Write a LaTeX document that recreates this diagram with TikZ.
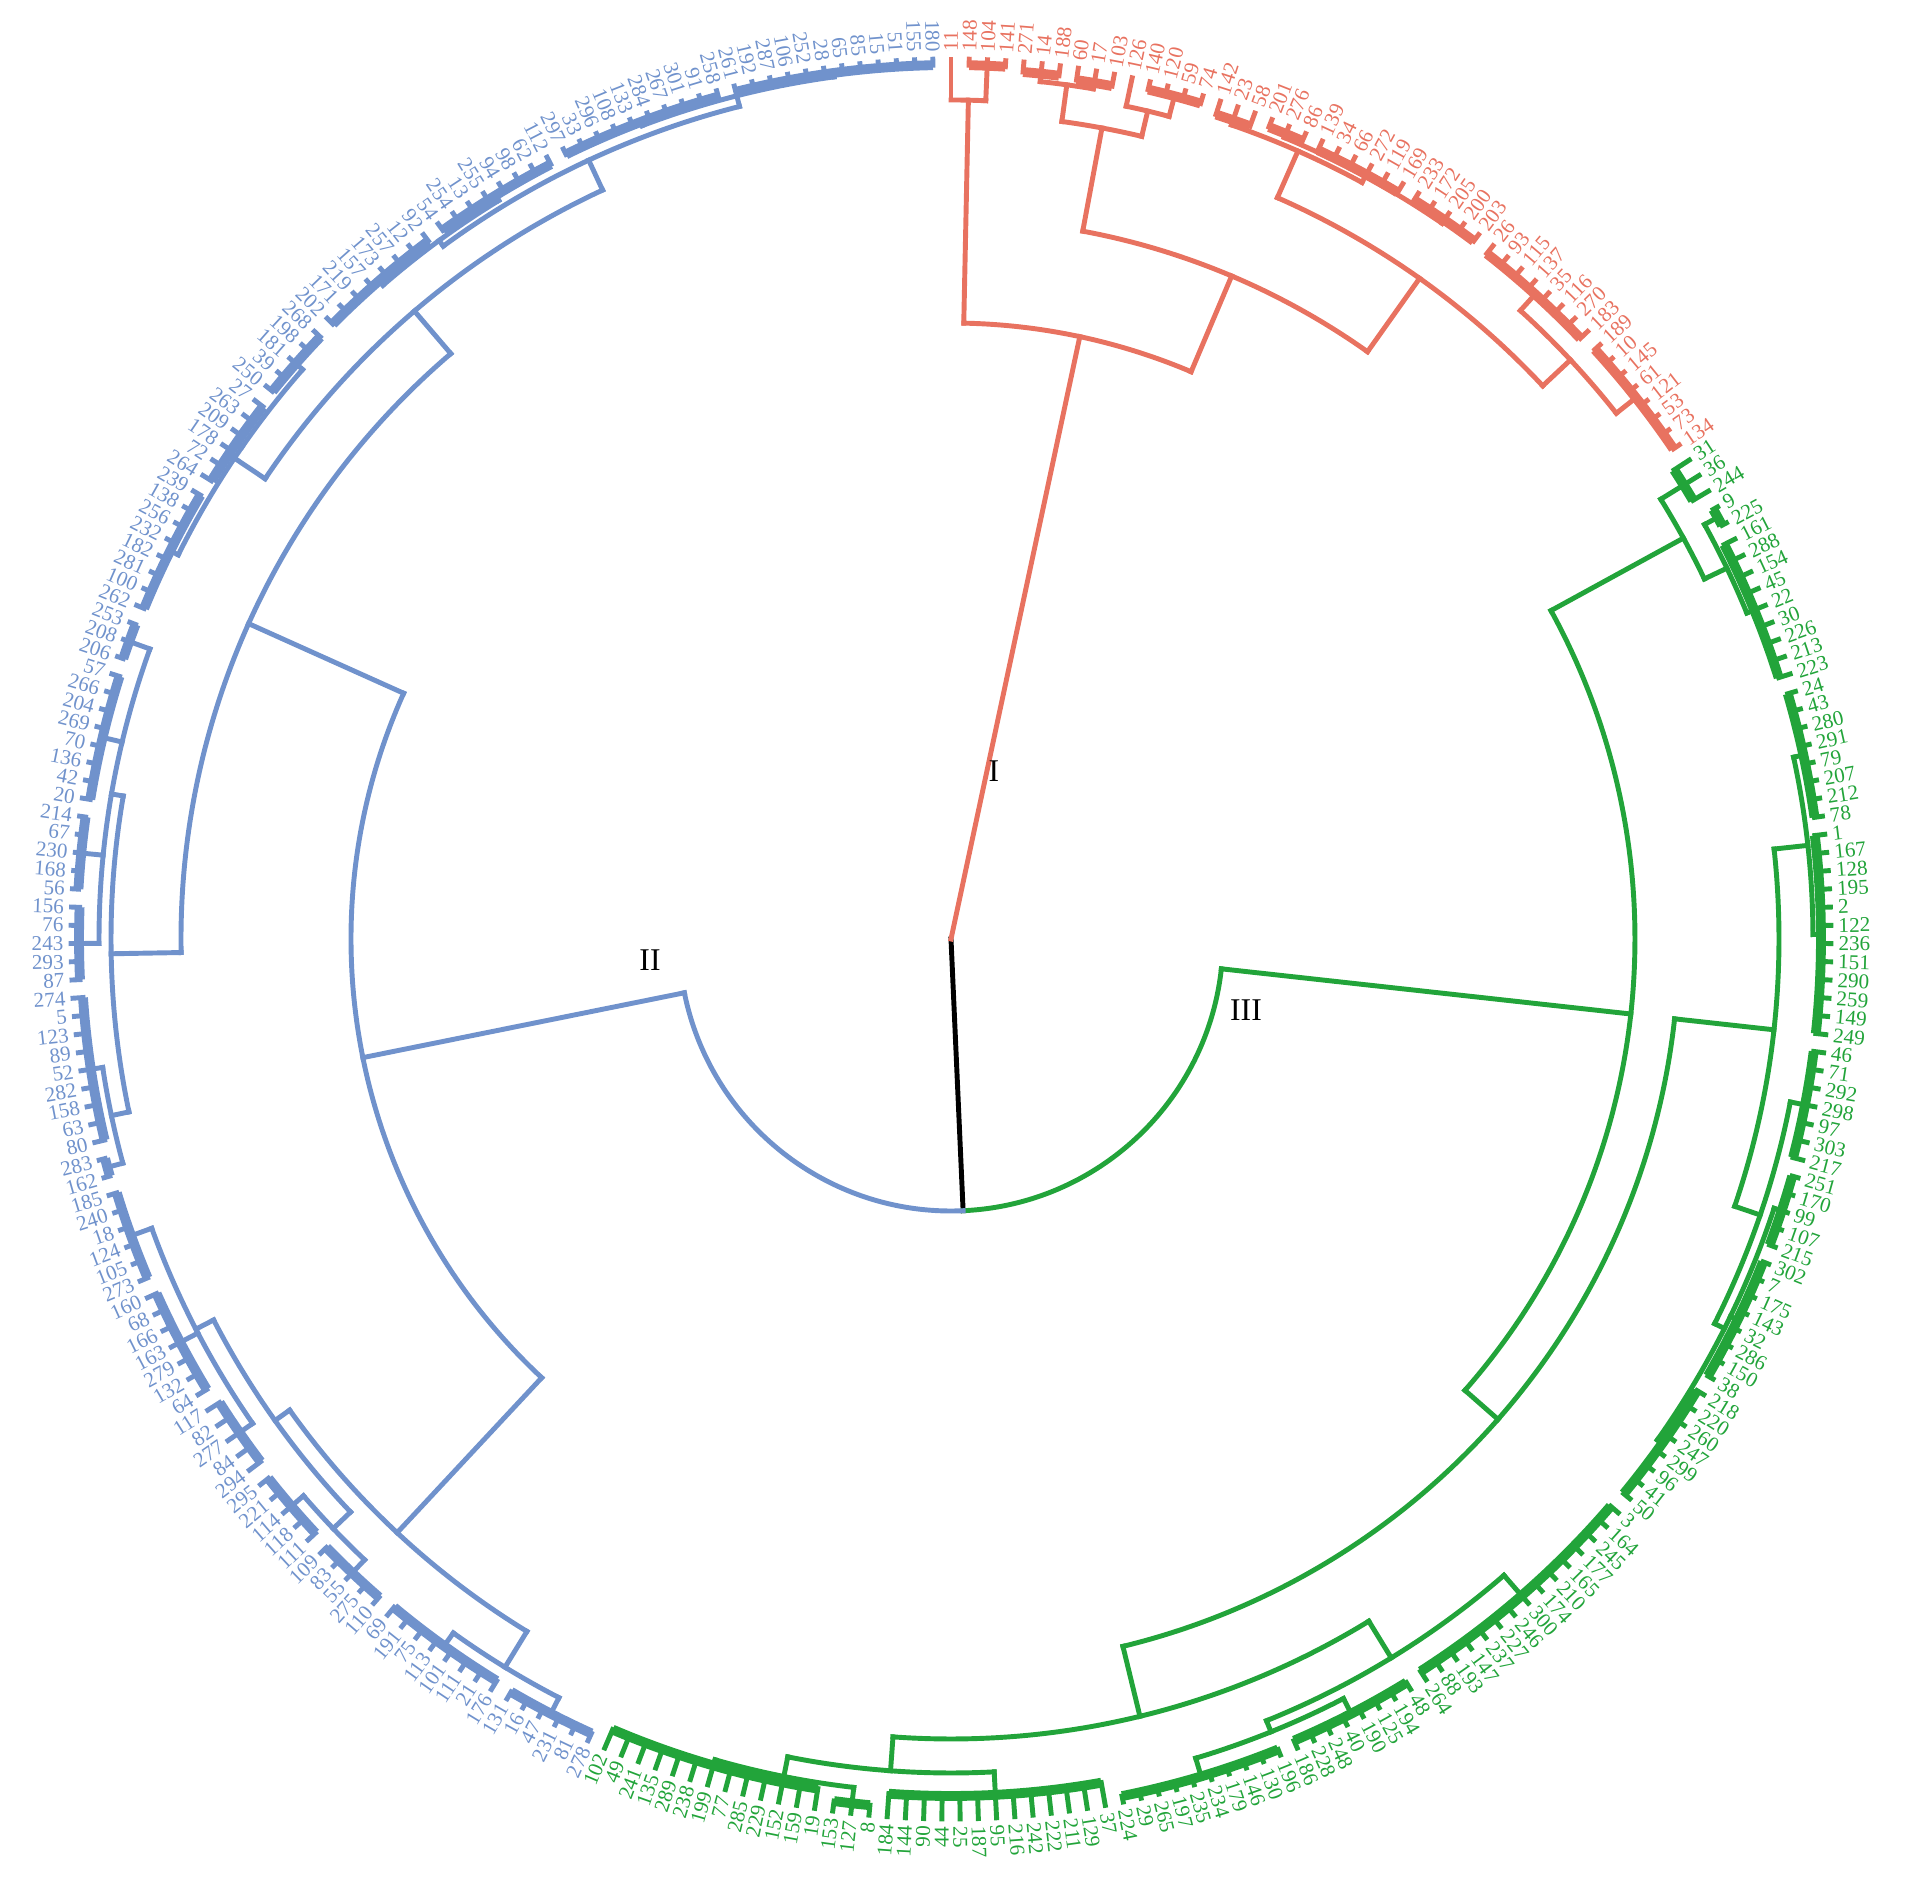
\documentclass[tikz,border=0pt]{standalone}
\usepackage{fontspec}
\setmainfont{Liberation Serif}
\usetikzlibrary{calc}

\definecolor{cred}{RGB}{232,114,96}
\definecolor{cgrn}{RGB}{34,164,58}
\definecolor{cblu}{RGB}{112,146,204}

% radius of the leaf tips and of the leaf labels
\def\rt{8.80}
\def\rl{8.87}
% degrees per leaf (360/303)
\def\dl{1.188119}

% radial stem at #2 from #3 to #4, then arc at #4 from #5 to #6 (positions in leaf units)
\newcommand{\arm}[6]{%
  \pgfmathsetmacro\aa{90-(#2)*\dl}
  \pgfmathsetmacro\ab{90-(#5)*\dl}
  \pgfmathsetmacro\ac{90-(#6)*\dl}
  \draw[#1, branch] (\aa:#3) -- (\aa:#4);
  \draw[#1, branch] (\ab:#4) arc[start angle=\ab, end angle=\ac, radius=#4];
}
% group of leaves #2..#3 hanging at radius #5, stem from #4
\newcommand{\tuft}[5]{%
  \pgfmathsetmacro\ta{90-(#2)*\dl}
  \pgfmathsetmacro\tb{90-(#3)*\dl}
  \pgfmathsetmacro\tm{90-(#2+#3)*\dl/2}
  \draw[#1, branch] (\tm:#4) -- (\tm:#5);
  \ifnum#2=#3\relax\else
    \draw[#1, tuftbar] (\ta:#5) arc[start angle=\ta, end angle=\tb, radius=#5];
  \fi
  \foreach \k in {#2,...,#3}{
    \pgfmathsetmacro\tk{90-\k*\dl}
    \draw[#1, branch] (\tk:#5) -- (\tk:\rt);
  }
}
% leaf label number #1
\newcommand{\leaflabel}[3]{%
  \pgfmathsetmacro\la{90-(#1)*\dl}
  \ifdim\la pt<-90pt
    \node[leaftext, text=#3, anchor=east, rotate=\la+180] (lab#1) at (\la:\rl) {#2};
  \else
    \node[leaftext, text=#3, anchor=west, rotate=\la] (lab#1) at (\la:\rl) {#2};
  \fi
}

\tikzset{
  branch/.style={line width=1.4pt, line cap=rect},
  tuftbar/.style={line width=2.8pt},
  leaftext/.style={font=\fontsize{6}{6}\selectfont, inner sep=0pt},
  cladename/.style={font=\fontsize{9}{9}\selectfont, text=black}
}

\begin{document}
\begin{tikzpicture}
\useasboundingbox (-9.51,-9.44) rectangle (9.61,9.39);

% root
\pgfmathsetmacro\ar{90-149.35*\dl}
\pgfmathsetmacro\ag{90-81.05*\dl}
\pgfmathsetmacro\ab{90-217.65*\dl}
\draw[black, branch] (0,0) -- (\ar:2.72);
\draw[cgrn, branch] (\ag:2.72) arc[start angle=\ag, end angle=\ar, radius=2.72];
\draw[cblu, branch] (\ar:2.72) arc[start angle=\ar, end angle=\ab, radius=2.72];

% clade I
\arm{cred}{10.16}{0}{6.16}{1.0}{19.31}
\arm{cred}{1.0}{6.16}{8.39}{0}{2}
\tuft{cred}{0}{0}{8.39}{8.39}
\tuft{cred}{1}{3}{8.39}{8.74}
\arm{cred}{19.31}{6.16}{7.20}{8.875}{29.75}
\arm{cred}{8.875}{7.20}{8.25}{6.5}{11.25}
\arm{cred}{6.5}{8.25}{8.62}{5}{8}
\tuft{cred}{4}{6}{8.62}{8.70}
\tuft{cred}{7}{9}{8.62}{8.68}
\arm{cred}{11.25}{8.25}{8.51}{10}{12.5}
\tuft{cred}{10}{10}{8.51}{8.51}
\tuft{cred}{11}{14}{8.51}{8.72}
\arm{cred}{29.75}{7.20}{8.10}{20}{39.5}
\arm{cred}{20}{8.10}{8.61}{16}{24}
\tuft{cred}{15}{17}{8.61}{8.66}
\arm{cred}{24}{8.61}{8.68}{19}{29}
\tuft{cred}{18}{20}{8.68}{8.72}
\tuft{cred}{21}{26}{8.68}{8.70}
\tuft{cred}{27}{31}{8.68}{8.72}
\arm{cred}{39.5}{8.10}{8.48}{35.5}{43.5}
\tuft{cred}{32}{39}{8.48}{8.70}
\tuft{cred}{40}{47}{8.48}{8.73}

% clade III
\arm{cgrn}{81.05}{2.72}{6.84}{51.6}{110.5}
\arm{cgrn}{51.6}{6.84}{8.35}{49}{54.25}
\tuft{cgrn}{48}{50}{8.35}{8.62}
\arm{cgrn}{54.25}{8.35}{8.60}{51.5}{57}
\tuft{cgrn}{51}{52}{8.60}{8.75}
\tuft{cgrn}{53}{61}{8.60}{8.68}
\arm{cgrn}{110.5}{6.84}{7.28}{81.05}{140}
\arm{cgrn}{81.05}{7.28}{8.28}{70.5}{91.6}
\arm{cgrn}{70.5}{8.28}{8.62}{65.5}{75.5}
\tuft{cgrn}{62}{69}{8.62}{8.72}
\tuft{cgrn}{70}{81}{8.62}{8.70}
\arm{cgrn}{91.6}{8.28}{8.55}{85}{98.25}
\tuft{cgrn}{82}{88}{8.55}{8.70}
\arm{cgrn}{98.25}{8.55}{8.66}{91}{105.5}
\tuft{cgrn}{89}{93}{8.66}{8.74}
\tuft{cgrn}{94}{101}{8.66}{8.74}
\tuft{cgrn}{102}{109}{8.66}{8.72}
\arm{cgrn}{140}{7.28}{8.00}{125}{155}
\arm{cgrn}{125}{8.00}{8.43}{117}{133}
\tuft{cgrn}{110}{124}{8.43}{8.70}
\arm{cgrn}{133}{8.43}{8.55}{128.5}{137.5}
\tuft{cgrn}{125}{132}{8.55}{8.72}
\tuft{cgrn}{133}{142}{8.55}{8.74}
\arm{cgrn}{155}{8.00}{8.34}{149}{161}
\tuft{cgrn}{143}{155}{8.34}{8.57}
\arm{cgrn}{161}{8.34}{8.54}{157}{165}
\tuft{cgrn}{156}{158}{8.54}{8.70}
\tuft{cgrn}{159}{171}{8.54}{8.60}

% clade II
\arm{cblu}{217.65}{2.72}{6.00}{187.7}{247.6}
\arm{cblu}{187.7}{6.00}{8.12}{178}{197.4}
\arm{cblu}{178}{8.12}{8.54}{174.5}{181.5}
\tuft{cblu}{172}{177}{8.54}{8.72}
\tuft{cblu}{178}{185}{8.54}{8.70}
\arm{cblu}{197.4}{8.12}{8.30}{190.5}{204.25}
\arm{cblu}{190.5}{8.30}{8.54}{188}{193}
\tuft{cblu}{186}{190}{8.54}{8.72}
\tuft{cblu}{191}{195}{8.54}{8.70}
\arm{cblu}{204.25}{8.30}{8.50}{198}{210.5}
\tuft{cblu}{196}{200}{8.50}{8.66}
\tuft{cblu}{201}{207}{8.50}{8.70}
\tuft{cblu}{208}{213}{8.50}{8.72}
\arm{cblu}{247.6}{6.00}{7.70}{226.4}{268.9}
\arm{cblu}{226.4}{7.70}{8.40}{217.25}{235.5}
\arm{cblu}{217.25}{8.40}{8.58}{214.5}{220}
\tuft{cblu}{214}{215}{8.58}{8.74}
\tuft{cblu}{216}{224}{8.58}{8.70}
\arm{cblu}{235.5}{8.40}{8.52}{227}{244}
\tuft{cblu}{225}{229}{8.52}{8.72}
\tuft{cblu}{230}{234}{8.52}{8.74}
\tuft{cblu}{235}{242}{8.52}{8.72}
\tuft{cblu}{243}{245}{8.52}{8.74}
\arm{cblu}{268.9}{7.70}{8.26}{255.75}{282}
\arm{cblu}{255.75}{8.26}{8.63}{249.5}{262}
\tuft{cblu}{246}{253}{8.63}{8.72}
\tuft{cblu}{254}{259}{8.63}{8.70}
\tuft{cblu}{260}{264}{8.63}{8.72}
\arm{cblu}{282}{8.26}{8.59}{272.5}{291}
\arm{cblu}{272.5}{8.59}{8.66}{268.5}{276.5}
\tuft{cblu}{265}{272}{8.66}{8.72}
\tuft{cblu}{273}{280}{8.66}{8.72}
\arm{cblu}{291}{8.59}{8.70}{285.5}{296.5}
\tuft{cblu}{281}{290}{8.70}{8.74}
\tuft{cblu}{291}{302}{8.70}{8.74}

% leaf labels
\foreach \lab [count=\i from 0] in {11,148,104,141,271,14,188,60,17,103,126,140,120,59,74,142,23,58,201,276,86,139,34,66,272,119,169,233,172,205,200,203,26,93,115,137,35,116,270,183,189,10,145,61,121,53,73,134}{
  \leaflabel{\i}{\lab}{cred}
}
\foreach \lab [count=\i from 48] in {31,36,244,9,225,161,288,154,45,22,30,226,213,223,24,43,280,291,79,207,212,78,1,167,128,195,2,122,236,151,290,259,149,249,46,71,292,298,97,303,217,251,170,99,107,215,302,7,175,143,32,286,150,38,218,220,260,247,299,96,41,50,3,164,245,177,165,210,174,300,246,227,237,147,193,88,264,48,194,125,190,40,248,228,186,196,130,146,179,234,235,197,265,29,224,37,129,211,222,242,216,95,187,25,44,90,144,184,8,127,153,19,159,152,229,285,77,199,238,289,135,241,49,102}{
  \leaflabel{\i}{\lab}{cgrn}
}
\foreach \lab [count=\i from 172] in {278,81,231,47,16,131,176,21,111,101,113,75,191,69,110,275,55,83,109,111,118,114,221,295,294,84,277,82,117,64,132,279,163,166,68,160,273,105,124,18,240,185,162,283,80,63,158,282,52,89,123,5,274,87,293,243,76,156,56,168,230,67,214,20,42,136,70,269,204,266,57,206,208,253,262,100,281,182,232,256,138,239,264,72,178,209,263,27,250,39,181,198,268,202,171,219,157,173,257,12,92,54,254,13,255,94,98,62,112,297,33,296,108,133,284,267,301,91,258,261,192,287,106,252,28,65,85,15,51,155,180}{
  \leaflabel{\i}{\lab}{cblu}
}

% clade names
\node[cladename] (nI) at (0.43,1.68) {I};
\node[cladename] (nII) at (-3.01,-0.21) {II};
\node[cladename] (nIII) at (2.95,-0.71) {III};
\end{tikzpicture}
\end{document}
